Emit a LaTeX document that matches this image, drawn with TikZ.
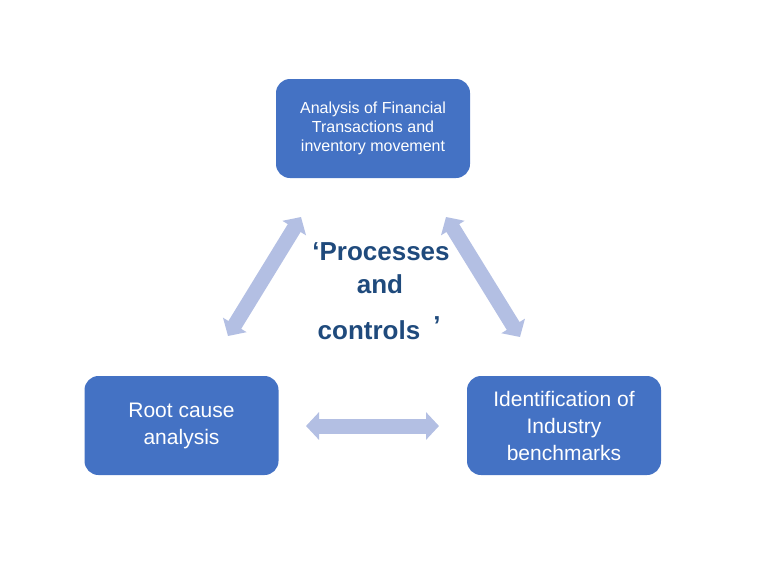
\documentclass[tikz,border=0pt]{standalone}
\usepackage{fontspec}
\setmainfont{Liberation Sans}
\usetikzlibrary{arrows.meta,positioning}
\definecolor{boxblue}{HTML}{4472C4}
\definecolor{arrowlav}{HTML}{B3BFE3}
\definecolor{titleblue}{HTML}{1F4A7C}
\tikzset{
  stagebox/.style={fill=boxblue, rounded corners=14pt, align=center,
    minimum width=194pt, minimum height=99pt, text=white,
    font=\fontsize{21}{27}\selectfont},
  smallstage/.style={stagebox, font=\fontsize{16}{19}\selectfont},
  titletext/.style={text=titleblue, align=center, inner sep=0pt,
    font=\fontsize{26}{32}\selectfont\bfseries},
  dblarr/.style={draw=arrowlav, line width=15pt,
    {Triangle[width=27pt,length=13pt]}-{Triangle[width=27pt,length=13pt]}}
}
\begin{document}
\begin{tikzpicture}[x=1pt,y=-1pt]
  \useasboundingbox (0,0) rectangle (768,582);
  % stages
  \node[smallstage] (analysis) at (373,128.5) {Analysis of Financial\\Transactions and\\inventory movement};
  \node[stagebox] (rootcause) at (181.5,425.5) {Root cause\\analysis};
  \node[stagebox] (benchmark) at (564,425.5) {Identification of\\Industry\\benchmarks};
  % centre title
  \node[titletext] (proc) at (381,252) {‘Processes};
  \node[titletext] (and) at (380,284) {and};
  \node[titletext] (ctrl) at (369,330) {controls};
  \node[titletext] (quote) at (437,326) {’};
  % arrow ends
  \coordinate (lefttop) at (301,217);
  \coordinate (leftbot) at (228,336);
  \coordinate (righttop) at (446,217);
  \coordinate (rightbot) at (520,337);
  \coordinate (midleft) at (306,426);
  \coordinate (midright) at (439,426);
  \draw[dblarr] (leftbot) -- (lefttop);
  \draw[dblarr] (righttop) -- (rightbot);
  \draw[dblarr] (midleft) -- (midright);
\end{tikzpicture}
\end{document}
